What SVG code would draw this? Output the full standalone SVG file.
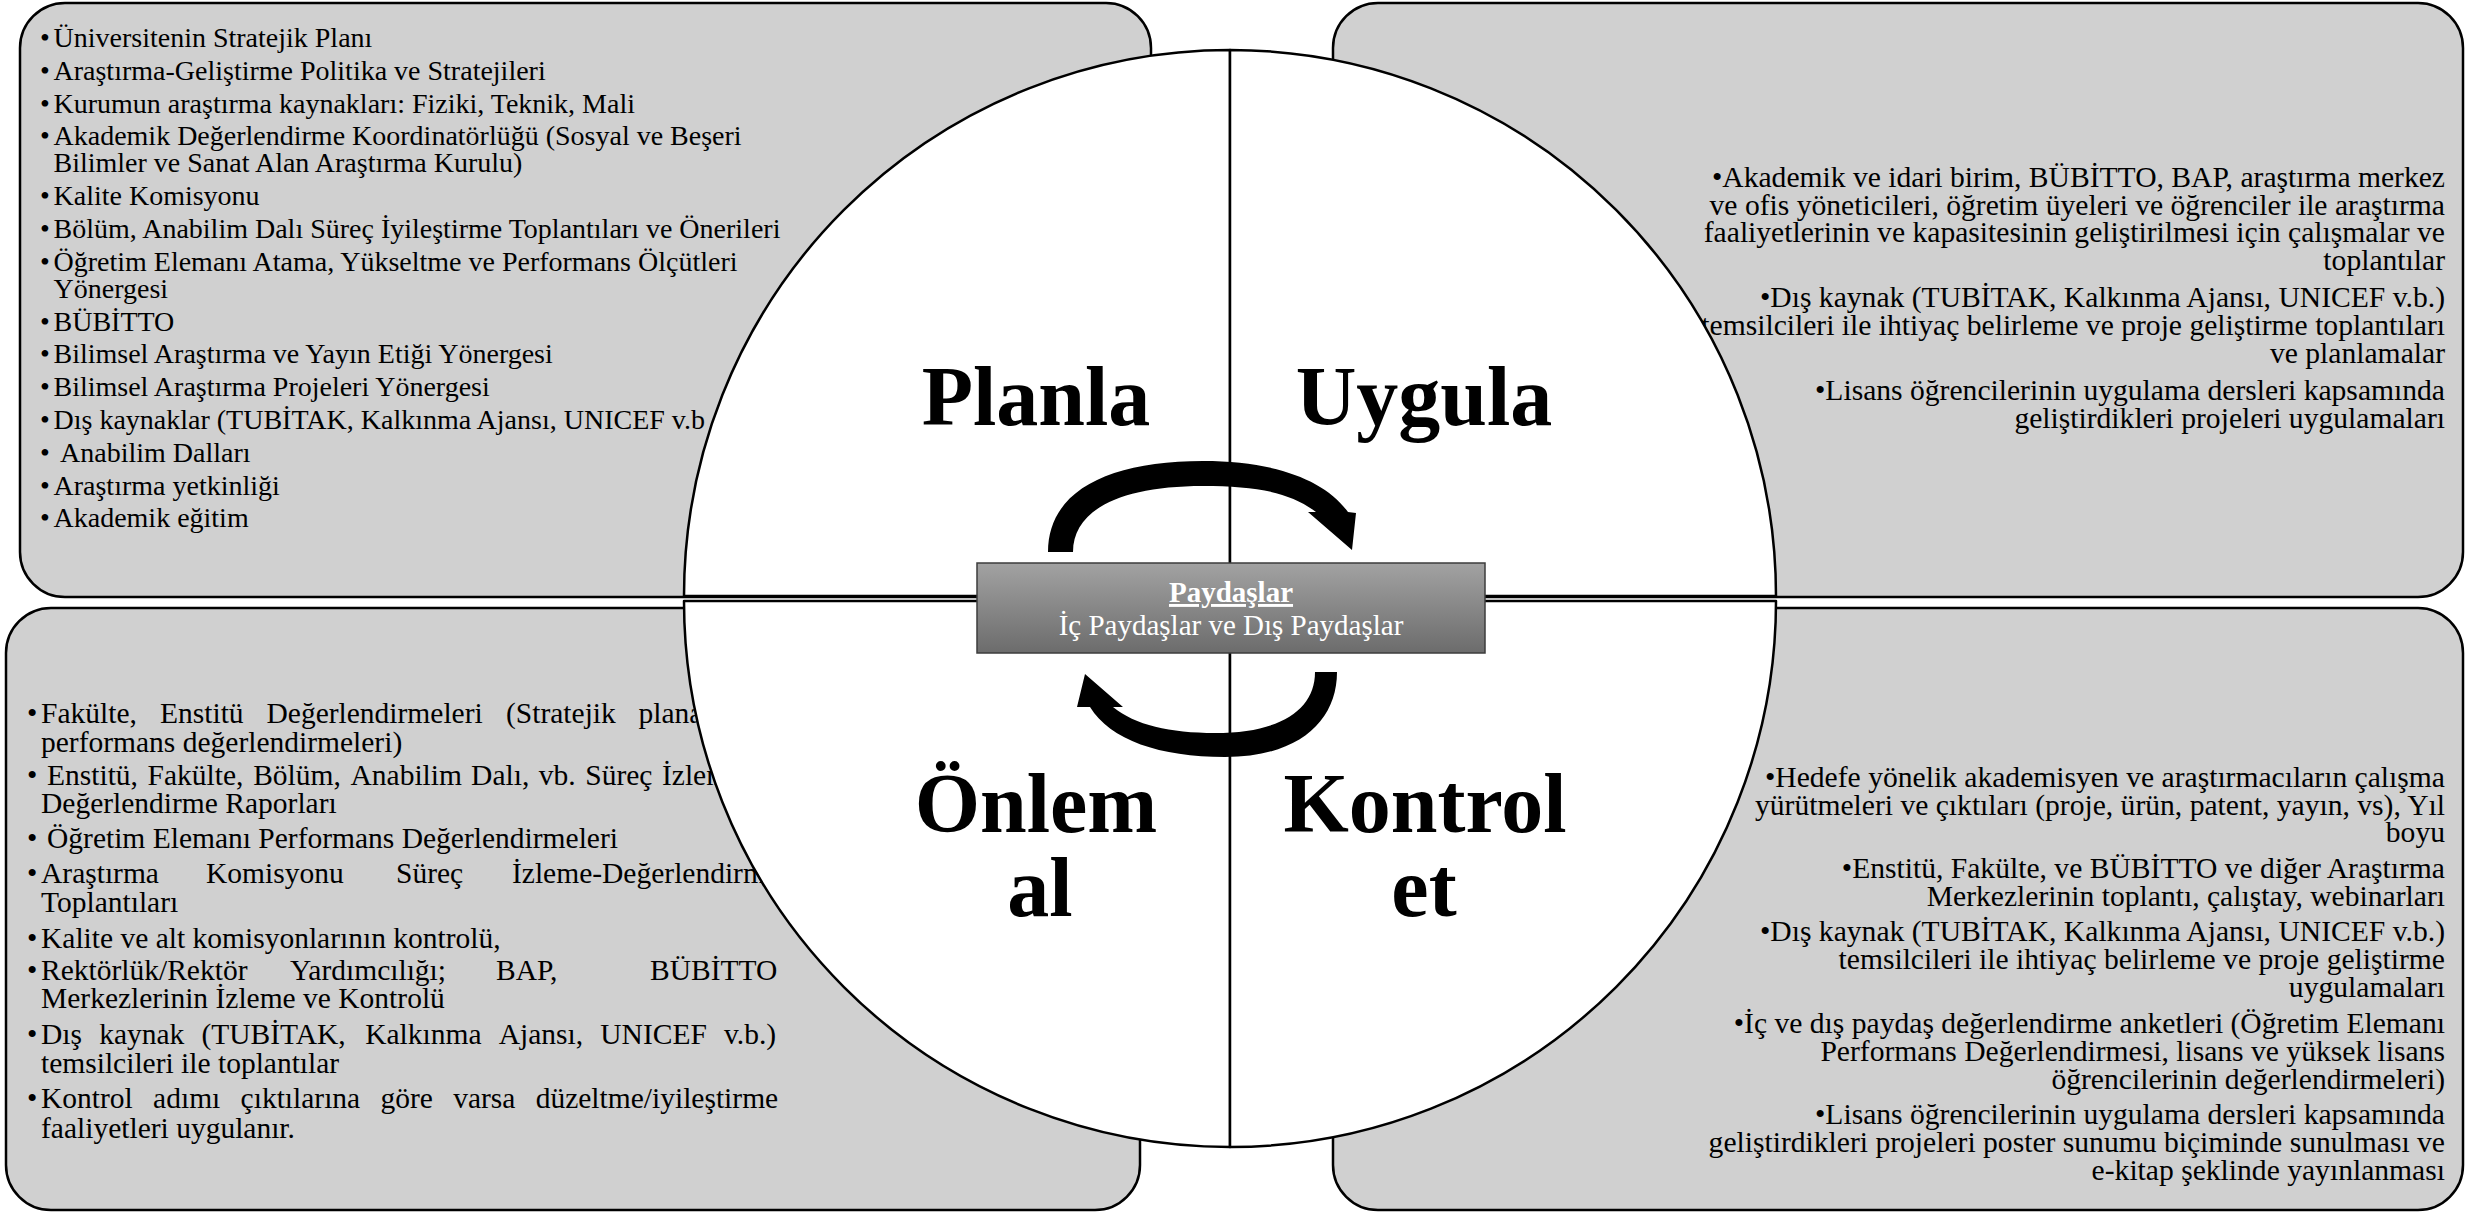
<svg xmlns="http://www.w3.org/2000/svg" width="2469" height="1212" viewBox="0 0 2469 1212">
<defs>
<linearGradient id="g" x1="0" y1="0" x2="0" y2="1">
<stop offset="0" stop-color="#a2a2a2"/>
<stop offset="1" stop-color="#6c6c6c"/>
</linearGradient>
</defs>
<style>
.box{fill:#d0d0d0;stroke:#000;stroke-width:2.5}
.pie{fill:#fff;stroke:#000;stroke-width:2.5;stroke-linejoin:round}
.t{font-family:"Liberation Serif","Times New Roman",serif;fill:#000}
.tl{font-size:28px}
.bl{font-size:29.5px}
.r{font-size:29.6px;text-anchor:end}
.big{font-family:"Liberation Serif","Times New Roman",serif;font-weight:bold;font-size:84px;text-anchor:middle;fill:#000}
.ct{font-family:"Liberation Serif","Times New Roman",serif;font-size:29px;fill:#fff;text-anchor:middle}
.arr{fill:#000}
</style>
<rect width="2469" height="1212" fill="#fff"/>

<g id="box-planla">
<rect class="box" x="20" y="3" width="1131" height="594" rx="45" ry="45"/>
<text class="t tl" y="47"><tspan x="40">•</tspan><tspan x="53.5">Üniversitenin Stratejik Planı</tspan></text>
<text class="t tl" y="80"><tspan x="40">•</tspan><tspan x="53.5">Araştırma-Geliştirme Politika ve Stratejileri</tspan></text>
<text class="t tl" y="113"><tspan x="40">•</tspan><tspan x="53.5">Kurumun araştırma kaynakları: Fiziki, Teknik, Mali</tspan></text>
<text class="t tl" y="145"><tspan x="40">•</tspan><tspan x="53.5">Akademik Değerlendirme Koordinatörlüğü (Sosyal ve Beşeri</tspan></text>
<text class="t tl" x="53.5" y="172">Bilimler ve Sanat Alan Araştırma Kurulu)</text>
<text class="t tl" y="205"><tspan x="40">•</tspan><tspan x="53.5">Kalite Komisyonu</tspan></text>
<text class="t tl" y="238"><tspan x="40">•</tspan><tspan x="53.5">Bölüm, Anabilim Dalı Süreç İyileştirme Toplantıları ve Önerileri</tspan></text>
<text class="t tl" y="271"><tspan x="40">•</tspan><tspan x="53.5">Öğretim Elemanı Atama, Yükseltme ve Performans Ölçütleri</tspan></text>
<text class="t tl" x="53.5" y="298">Yönergesi</text>
<text class="t tl" y="331"><tspan x="40">•</tspan><tspan x="53.5">BÜBİTTO</tspan></text>
<text class="t tl" y="363"><tspan x="40">•</tspan><tspan x="53.5">Bilimsel Araştırma ve Yayın Etiği Yönergesi</tspan></text>
<text class="t tl" y="396"><tspan x="40">•</tspan><tspan x="53.5">Bilimsel Araştırma Projeleri Yönergesi</tspan></text>
<text class="t tl" y="429"><tspan x="40">•</tspan><tspan x="53.5">Dış kaynaklar (TUBİTAK, Kalkınma Ajansı, UNICEF v.b</tspan></text>
<text class="t tl" y="462"><tspan x="40">•</tspan><tspan x="60">Anabilim Dalları</tspan></text>
<text class="t tl" y="495"><tspan x="40">•</tspan><tspan x="53.5">Araştırma yetkinliği</tspan></text>
<text class="t tl" y="527"><tspan x="40">•</tspan><tspan x="53.5">Akademik eğitim</tspan></text>
</g>

<g id="box-uygula">
<rect class="box" x="1333" y="3" width="1130" height="594" rx="45" ry="45"/>
<text class="t r" x="2445" y="187">•Akademik ve idari birim, BÜBİTTO, BAP, araştırma merkez</text>
<text class="t r" x="2445" y="215">ve ofis yöneticileri, öğretim üyeleri ve öğrenciler ile araştırma</text>
<text class="t r" x="2445" y="242">faaliyetlerinin ve kapasitesinin geliştirilmesi için çalışmalar ve</text>
<text class="t r" x="2445" y="270">toplantılar</text>
<text class="t r" x="2445" y="307">•Dış kaynak (TUBİTAK, Kalkınma Ajansı, UNICEF v.b.)</text>
<text class="t r" x="2445" y="335">temsilcileri ile ihtiyaç belirleme ve proje geliştirme toplantıları</text>
<text class="t r" x="2445" y="363">ve planlamalar</text>
<text class="t r" x="2445" y="400">•Lisans öğrencilerinin uygulama dersleri kapsamında</text>
<text class="t r" x="2445" y="428">geliştirdikleri projeleri uygulamaları</text>
</g>

<g id="box-onlem">
<rect class="box" x="6" y="608" width="1134" height="602" rx="45" ry="45"/>
<text class="t bl" y="723"><tspan x="27">•</tspan><tspan x="41">Fakülte,</tspan><tspan x="160">Enstitü</tspan><tspan x="266.5">Değerlendirmeleri</tspan><tspan x="506">(Stratejik</tspan><tspan x="638.5">plana</tspan></text>
<text class="t bl" x="41" y="752">performans değerlendirmeleri)</text>
<text class="t bl" y="785"><tspan x="27">•</tspan><tspan x="47">Enstitü,</tspan><tspan x="147.6">Fakülte,</tspan><tspan x="253.2">Bölüm,</tspan><tspan x="350.5">Anabilim</tspan><tspan x="471.1">Dalı,</tspan><tspan x="538.7">vb.</tspan><tspan x="585.3">Süreç</tspan><tspan x="662">İzlem</tspan></text>
<text class="t bl" x="41" y="813">Değerlendirme Raporları</text>
<text class="t bl" y="848"><tspan x="27">•</tspan><tspan x="47">Öğretim Elemanı Performans Değerlendirmeleri</tspan></text>
<text class="t bl" y="883"><tspan x="27">•</tspan><tspan x="41">Araştırma</tspan><tspan x="206">Komisyonu</tspan><tspan x="396">Süreç</tspan><tspan x="512">İzleme-Değerlendirm</tspan></text>
<text class="t bl" x="41" y="912">Toplantıları</text>
<text class="t bl" y="948"><tspan x="27">•</tspan><tspan x="41">Kalite ve alt komisyonlarının kontrolü,</tspan></text>
<text class="t bl" y="980"><tspan x="27">•</tspan><tspan x="41">Rektörlük/Rektör</tspan><tspan x="290">Yardımcılığı;</tspan><tspan x="496">BAP,</tspan><tspan x="650">BÜBİTTO</tspan></text>
<text class="t bl" x="41" y="1008">Merkezlerinin İzleme ve Kontrolü</text>
<text class="t bl" y="1044"><tspan x="27">•</tspan><tspan x="41">Dış</tspan><tspan x="99.2">kaynak</tspan><tspan x="201.4">(TUBİTAK,</tspan><tspan x="365.2">Kalkınma</tspan><tspan x="498.7">Ajansı,</tspan><tspan x="600.3">UNICEF</tspan><tspan x="724">v.b.)</tspan></text>
<text class="t bl" x="41" y="1073">temsilcileri ile toplantılar</text>
<text class="t bl" y="1108"><tspan x="27">•</tspan><tspan x="41">Kontrol</tspan><tspan x="153.1">adımı</tspan><tspan x="240.6">çıktılarına</tspan><tspan x="380.5">göre</tspan><tspan x="453.2">varsa</tspan><tspan x="535.7">düzeltme/iyileştirme</tspan></text>
<text class="t bl" x="41" y="1138">faaliyetleri uygulanır.</text>
</g>

<g id="box-kontrol">
<rect class="box" x="1333" y="608" width="1130" height="602" rx="45" ry="45"/>
<text class="t r" x="2445" y="787">•Hedefe yönelik akademisyen ve araştırmacıların çalışma</text>
<text class="t r" x="2445" y="815">yürütmeleri ve çıktıları (proje, ürün, patent, yayın, vs), Yıl</text>
<text class="t r" x="2445" y="842">boyu</text>
<text class="t r" x="2445" y="878">•Enstitü, Fakülte, ve BÜBİTTO ve diğer Araştırma</text>
<text class="t r" x="2445" y="906">Merkezlerinin toplantı, çalıştay, webinarları</text>
<text class="t r" x="2445" y="941">•Dış kaynak (TUBİTAK, Kalkınma Ajansı, UNICEF v.b.)</text>
<text class="t r" x="2445" y="969">temsilcileri ile ihtiyaç belirleme ve proje geliştirme</text>
<text class="t r" x="2445" y="997">uygulamaları</text>
<text class="t r" x="2445" y="1033">•İç ve dış paydaş değerlendirme anketleri (Öğretim Elemanı</text>
<text class="t r" x="2445" y="1061">Performans Değerlendirmesi, lisans ve yüksek lisans</text>
<text class="t r" x="2445" y="1089">öğrencilerinin değerlendirmeleri)</text>
<text class="t r" x="2445" y="1124">•Lisans öğrencilerinin uygulama dersleri kapsamında</text>
<text class="t r" x="2445" y="1152">geliştirdikleri projeleri poster sunumu biçiminde sunulması ve</text>
<text class="t r" x="2445" y="1180">e-kitap şeklinde yayınlanması</text>
</g>

<g id="quadrant-planla">
<path class="pie" d="M1230,596 L684,596 A546,546 0 0 1 1230,50 Z"/>
<text class="big" x="1036" y="425">Planla</text>
</g>
<g id="quadrant-uygula">
<path class="pie" d="M1230,596 L1230,50 A546,546 0 0 1 1776,596 Z"/>
<text class="big" x="1424" y="425">Uygula</text>
</g>
<g id="quadrant-onlem">
<path class="pie" d="M1230,601 L1230,1147 A546,546 0 0 1 684,601 Z"/>
<text class="big" x="1036" y="832">Önlem</text>
<text class="big" x="1040" y="916">al</text>
</g>
<g id="quadrant-kontrol">
<path class="pie" d="M1230,601 L1776,601 A546,546 0 0 1 1230,1147 Z"/>
<text class="big" x="1425" y="832">Kontrol</text>
<text class="big" x="1424" y="916">et</text>
</g>

<g id="paydaslar">
<rect x="977" y="563" width="508" height="90" fill="url(#g)" stroke="#3c3c3c" stroke-width="1.5"/>
<text class="ct" x="1231" y="602" font-weight="bold" text-decoration="underline">Paydaşlar</text>
<text class="ct" x="1231" y="635">İç Paydaşlar ve Dış Paydaşlar</text>
</g>

<g id="connectors">
<path class="arr" d="M1048,552 C1048,490 1110,461 1203,461 C1275,461 1325,480 1348,512 L1356,513 L1352,550 L1308,512 L1316,512 C1290,492 1255,486 1203,486 C1120,486 1073,510 1073,552 Z"/>
<path class="arr" d="M1337,672 C1337,720 1300,757 1225,757 C1160,757 1110,740 1090,707 L1077,707 L1085,674 L1123,707 L1113,707 C1135,725 1170,733 1215,733 C1280,733 1315,710 1315,672 Z"/>
</g>
</svg>
